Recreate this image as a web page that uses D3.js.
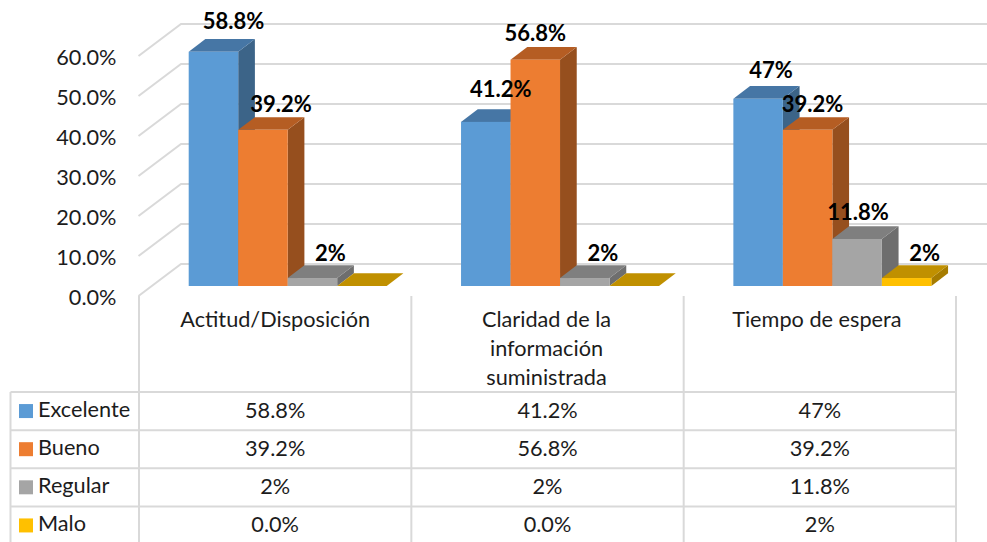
<!DOCTYPE html>
<html><head><meta charset="utf-8">
<script src="https://cdn.jsdelivr.net/npm/d3@7"></script>
<style>html,body{margin:0;background:#fff}svg{display:block}text{font-family:Lato,"Open Sans",sans-serif}</style>
</head><body><svg id="c" width="987" height="542"></svg>
<script>
const categories = ["Actitud/Disposición", "Claridad de la información suministrada", "Tiempo de espera"];
const seriesNames = ["Excelente", "Bueno", "Regular", "Malo"];
const excelente = [58.8, 41.2, 47];
const bueno = [39.2, 56.8, 39.2];
const regular = [2, 2, 11.8];
const malo = [0, 0, 2];
const excelenteText = ["58.8%", "41.2%", "47%"];
const buenoText = ["39.2%", "56.8%", "39.2%"];
const regularText = ["2%", "2%", "11.8%"];
const maloText = ["0.0%", "0.0%", "2%"];
const yTicks = [0, 10, 20, 30, 40, 50, 60];
const categoryLines = [["Actitud/Disposición"], ["Claridad de la", "información", "suministrada"], ["Tiempo de espera"]];
const frontColors = ["#5b9bd5", "#ed7d31", "#a5a5a5", "#ffc000"];
const topColors = ["#4676a5", "#b55d23", "#7f7f7f", "#c09000"];
const sideColors = ["#3c6488", "#964f1e", "#6e6e6e", "#a67c00"];
// Hand-placed chart labels (series x category): offset from the bar's top centre; the source nudges them individually.
const labelNudgeX = [[20, 15, 13], [18, 0, 5], [18, 18, 1], [0, 0, 18]];
const labelNudgeY = [[-31, -33, -29], [-26.5, -27, -26.5], [-26, -26, -27.5], [0, 0, -26]];

const values = [excelente, bueno, regular, malo];
const texts = [excelenteText, buenoText, regularText, maloText];
const svg = d3.select("#c");
const grid = "#d9d9d9", ink = "#1c1c1c";

const y = d3.scaleLinear().domain([0, 60]).range([296, 56]);
const barY = d3.scaleLinear().domain([0, 60]).range([286, 47]);
const colEdges = d3.scalePoint().domain(d3.range(categories.length + 1)).range([139, 956]);
const colX = i => colEdges(i);
const group = d3.scaleBand().domain(d3.range(seriesNames.length)).range([0, 198]);
const barLeft = 49.7;               // first bar starts this far inside the column
const wall = {dx: 42, dy: 32};      // depth of the back wall
const depth = {dx: 16.7, dy: 12.7}; // depth of a bar
const textSize = 21.7;

// back wall gridlines + left-side diagonals
const gl = svg.append("g").attr("stroke", grid).attr("stroke-width", 2).attr("fill", "none");
gl.selectAll("path").data(yTicks).join("path")
  .attr("d", t => `M${colX(0)-0.5},${y(t)}L${colX(0)+wall.dx},${y(t)-wall.dy}L987,${y(t)-wall.dy}`);

// axis
const axis = svg.append("g").attr("transform", "translate(116.5,1.5)")
  .call(d3.axisLeft(y).tickValues(yTicks).tickSize(0).tickPadding(0).tickFormat(t => t.toFixed(1) + "%"));
axis.select(".domain").remove();
axis.selectAll("text").attr("font-size", textSize).attr("fill", ink).style("font-family", "Lato");

// bars
const poly = pts => "M" + pts.map(p => p.join(",")).join("L") + "Z";
categories.forEach((cat, c) => {
  const g = svg.append("g");
  seriesNames.forEach((s, k) => {
    const v = values[k][c];
    const x0 = colX(c) + barLeft + group(k), x1 = x0 + group.bandwidth();
    const yb = barY(0), yt = barY(v);
    const d = depth;
    g.append("path").attr("fill", sideColors[k])
      .attr("d", poly([[x1,yt],[x1+d.dx,yt-d.dy],[x1+d.dx,yb-d.dy],[x1,yb]]));
    g.append("path").attr("fill", topColors[k])
      .attr("d", poly([[x0,yt],[x0+d.dx,yt-d.dy],[x1+d.dx,yt-d.dy],[x1,yt]]));
    if (v > 0) g.append("rect").attr("fill", frontColors[k])
      .attr("x", x0).attr("y", yt).attr("width", x1 - x0).attr("height", yb - yt);
  });
});
// value labels on top of all bars
categories.forEach((cat, c) => {
  seriesNames.forEach((s, k) => {
    const v = values[k][c];
    if (v === 0) return;
    const cx = colX(c) + barLeft + group(k) + group.bandwidth() / 2;
    svg.append("text").attr("x", cx + labelNudgeX[k][c]).attr("y", barY(v) + labelNudgeY[k][c])
      .attr("text-anchor", "middle").attr("dominant-baseline", "central")
      .attr("font-size", textSize + 0.3).attr("font-weight", 700).attr("fill", "#000").text(texts[k][c]);
  });
});

// data table
const rowY = d3.scalePoint().domain(d3.range(seriesNames.length + 1)).range([392, 544.5]);
const tableLeft = 10.5;
const lines = svg.append("g").attr("stroke", grid).attr("stroke-width", 2);
d3.range(categories.length + 1).forEach(i =>
  lines.append("line").attr("x1", colX(i)).attr("x2", colX(i)).attr("y1", 296).attr("y2", 542));
lines.append("line").attr("x1", tableLeft).attr("x2", tableLeft).attr("y1", rowY(0)).attr("y2", 542);
d3.range(seriesNames.length + 1).forEach(i =>
  lines.append("line").attr("x1", tableLeft).attr("x2", colX(categories.length)).attr("y1", rowY(i)).attr("y2", rowY(i)));

// category headers
categoryLines.forEach((ls, c) => {
  const cx = (colX(c) + colX(c + 1)) / 2;
  ls.forEach((t, i) => svg.append("text").attr("x", c === 2 ? colX(2) + 48.5 : cx - (c === 1 ? 1 : 0)).attr("y", 318.5 + i * 29)
    .attr("text-anchor", c === 2 ? "start" : "middle").attr("dominant-baseline", "central")
    .attr("font-size", textSize).attr("fill", ink).text(t));
});

// legend + values
seriesNames.forEach((s, k) => {
  const cy = (rowY(k) + rowY(k + 1)) / 2;
  svg.append("rect").attr("x", 19).attr("y", cy - 7).attr("width", 14).attr("height", 14).attr("fill", frontColors[k]);
  svg.append("text").attr("x", 38).attr("y", cy - 2).attr("dominant-baseline", "central")
    .attr("font-size", textSize).attr("fill", ink).text(s);
  categories.forEach((cat, c) => {
    svg.append("text").attr("x", (colX(c) + colX(c + 1)) / 2).attr("y", cy - 1)
      .attr("text-anchor", "middle").attr("dominant-baseline", "central")
      .attr("font-size", textSize).attr("fill", ink).text(texts[k][c]);
  });
});
</script></body></html>
